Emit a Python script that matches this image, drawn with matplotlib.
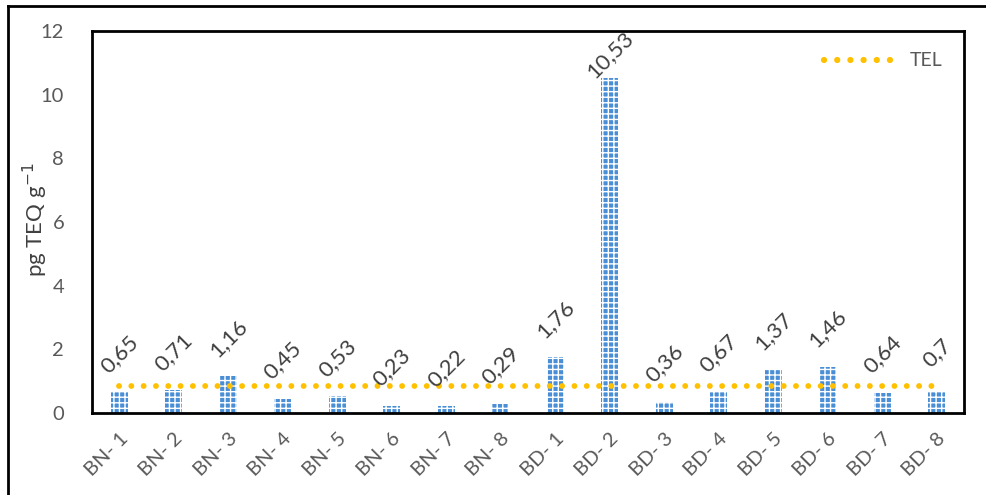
import numpy as np
import matplotlib
matplotlib.use('Agg')
import matplotlib.pyplot as plt
from matplotlib.lines import Line2D

plt.rcParams['font.family'] = ['Lato', 'DejaVu Sans']
plt.rcParams['hatch.color'] = 'white'
plt.rcParams['hatch.linewidth'] = 1.0

samples = ['BN- 1', 'BN- 2', 'BN- 3', 'BN- 4', 'BN- 5', 'BN- 6', 'BN- 7', 'BN- 8',
           'BD- 1', 'BD- 2', 'BD- 3', 'BD- 4', 'BD- 5', 'BD- 6', 'BD- 7', 'BD- 8']
teq = [0.65, 0.71, 1.16, 0.45, 0.53, 0.23, 0.22, 0.29,
       1.76, 10.53, 0.36, 0.67, 1.37, 1.46, 0.64, 0.7]
labels = ['0,65', '0,71', '1,16', '0,45', '0,53', '0,23', '0,22', '0,29',
          '1,76', '10,53', '0,36', '0,67', '1,37', '1,46', '0,64', '0,7']
tel = [0.85] * len(samples)

txt = '#404040'
tick = '#595959'
dots = (0, (0.01, 2.1))

fig = plt.figure(figsize=(9.87, 4.95), dpi=100)
ax = fig.add_axes([92 / 987, 1 - 413 / 495, (964 - 92) / 987, (413 - 31) / 495])

x = np.arange(len(samples))
ax.bar(x, teq, width=0.31, color='#4a8fd6', edgecolor='white', linewidth=0,
       hatch='+++', zorder=2)
ax.plot(x, tel, linestyle=dots, dash_capstyle='round', color='#ffc000',
        linewidth=4.2, zorder=3)

for xi, v, lab in zip(x, teq, labels):
    ax.text(xi, min(v + 1.2, 11.25), lab, rotation=45, rotation_mode='anchor',
            ha='center', va='center', fontsize=16, color=txt)

ax.set_xlim(-0.5, len(samples) - 0.5)
ax.set_ylim(0, 12)
ax.set_yticks(np.arange(0, 13, 2))
ax.set_xticks(x)
ax.set_xticklabels(samples, rotation=45, ha='right', rotation_mode='anchor')
ax.tick_params(axis='both', length=0, labelsize=14.5, labelcolor=tick)
ax.tick_params(axis='y', pad=20)
ax.tick_params(axis='x', pad=12)
for s in ax.spines.values():
    s.set_linewidth(2)
    s.set_color('black')

fig.text(35 / 987, 1 - 220 / 495, 'pg TEQ g$^{-1}$', rotation=90, ha='center',
         va='center', fontsize=16, color=txt)

handle = Line2D([], [], linestyle=dots, dash_capstyle='round',
                color='#ffc000', linewidth=4.5)
ax.legend([handle], ['TEL'], loc='upper right', frameon=False, fontsize=14,
          labelcolor=tick, handlelength=3.6, bbox_to_anchor=(0.995, 0.99))

fig.add_artist(Line2D([8 / 987, 8 / 987], [0, 1 - 6 / 495], color='black', linewidth=2))
fig.add_artist(Line2D([8 / 987, 1], [1 - 6 / 495, 1 - 6 / 495], color='black', linewidth=2))

fig.savefig('out.png', dpi=100)
